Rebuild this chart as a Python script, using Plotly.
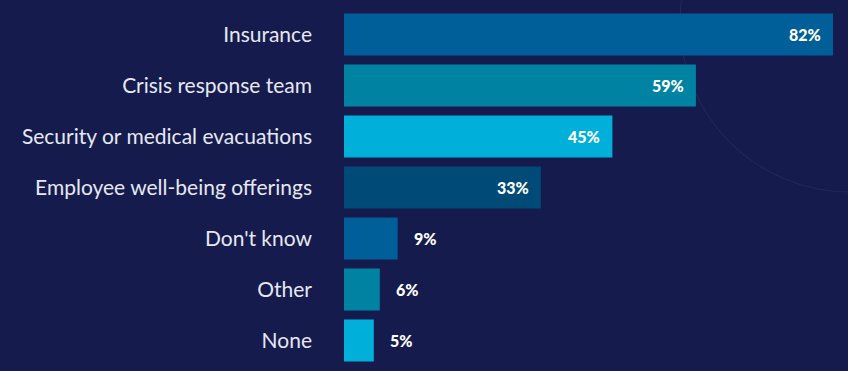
import plotly.graph_objects as go

categories = ["Insurance", "Crisis response team", "Security or medical evacuations",
              "Employee well-being offerings", "Don't know", "Other", "None"]
values = [82, 59, 45, 33, 9, 6, 5]
bar_colors = ["#005e98", "#0083a3", "#00b0da", "#004a78", "#005e98", "#0083a3", "#00b0da"]

BG = "#151b4d"
W, H = 848, 371
ML, MR, MT, MB = 344, 3, 9, 5
XMAX = 84

fig = go.Figure()
fig.add_trace(go.Bar(
    x=values, y=categories, orientation="h",
    marker=dict(color=bar_colors, line=dict(width=0)),
    hoverinfo="skip",
))

annotations = []
for c, v in zip(categories, values):
    inside = v >= 20
    annotations.append(dict(
        x=v, y=c, xref="x", yref="y", text=f"{v}%", showarrow=False,
        xanchor="right" if inside else "left",
        xshift=-10 if inside else 14,
        font=dict(family="Lato", size=16, color="white", weight=900),
    ))

# faint decorative arc (pixel geometry converted to paper coords)
pw, ph = W - ML - MR, H - MT - MB
cx, cy, r = 850, 22, 170
def px2x(p): return (p - ML) / pw
def py2y(p): return 1 - (p - MT) / ph

fig.update_layout(
    width=W, height=H,
    margin=dict(l=ML, r=MR, t=MT, b=MB),
    paper_bgcolor=BG, plot_bgcolor="rgba(0,0,0,0)",
    bargap=0.18, showlegend=False,
    annotations=annotations,
    shapes=[dict(type="circle", xref="paper", yref="paper", layer="below",
                 x0=px2x(cx - r), x1=px2x(cx + r), y0=py2y(cy + r), y1=py2y(cy - r),
                 line=dict(color="rgba(255,255,255,0.06)", width=1))],
    xaxis=dict(range=[0, XMAX], visible=False, fixedrange=True),
    yaxis=dict(autorange="reversed", showgrid=False, zeroline=False, showline=False,
               ticks="", ticklabelstandoff=31, automargin=False,
               tickfont=dict(family="Lato", size=21, color="#e6e8f2")),
)

fig.write_html(
    "out.html",
    config={"displayModeBar": False},
    post_script=("document.body.style.margin='0';document.body.style.padding='0';"
                 "document.body.style.overflow='hidden';"
                 f"document.body.style.background='{BG}';"),
)
